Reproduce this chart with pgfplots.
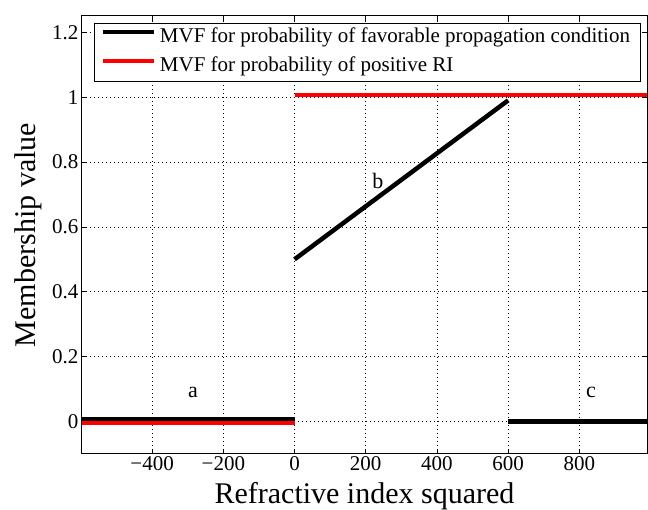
\documentclass[border=0pt]{standalone}
\usepackage{pgfplots}
\pgfplotsset{compat=1.18}
\usepackage{fontspec}
\setmainfont{Liberation Serif}

\begin{document}
\begin{tikzpicture}
\begin{axis}[
    width=565pt, height=438pt,
    scale only axis,
    xmin=-597, xmax=990,
    ymin=-0.1, ymax=1.25,
    xtick={-400,-200,0,200,400,600,800},
    ytick={0,0.2,0.4,0.6,0.8,1,1.2},
    yticklabels={0,0.2,0.4,0.6,0.8,1,1.2},
    xticklabels={−400,−200,0,200,400,600,800},
    tick align=inside,
    major tick length=5pt,
    tick style={black, line width=0.6pt},
    axis line style={line width=1pt},
    grid=major,
    grid style={black, line width=0.7pt, dash pattern=on 0.7pt off 3.3pt},
    ticklabel style={font=\fontsize{21}{21}\selectfont},
    xticklabel style={yshift=1pt},
    /pgf/number format/assume math mode=true,
    xlabel={Refractive index squared},
    ylabel={Membership value},
    label style={font=\fontsize{30}{30}\selectfont},
    xlabel style={at={(axis description cs:0.5,0)}, anchor=center, yshift=-42pt},
    ylabel style={at={(axis description cs:0,0.5)}, anchor=center, yshift=54pt},
    legend style={at={(axis description cs:0.0212,0.984)}, anchor=north west,
        font=\fontsize{21}{21}\selectfont, draw=black, line width=1pt,
        inner xsep=6pt, inner ysep=0pt, row sep=0pt,
        nodes={inner xsep=4pt, inner ysep=3pt, text height=16pt, text depth=7pt}},
    legend cell align=left,
    legend image code/.code={\draw[#1] (0pt,6pt) -- (51pt,6pt);},
    clip=true,
]
\addplot[black, line width=4.5pt] coordinates {(-597,0.008) (0,0.008)};
\addlegendentry{MVF for probability of favorable propagation condition}
\addplot[red, line width=4.5pt] coordinates {(-597,-0.005) (0,-0.005)};
\addlegendentry{MVF for probability of positive RI}
\addplot[black, line width=4.5pt, forget plot] coordinates {(0,0.5) (600,0.99)};
\addplot[red, line width=4.5pt, forget plot] coordinates {(0,1.006) (990,1.006)};
\addplot[black, line width=4.5pt, forget plot] coordinates {(600,0) (990,0)};
\node[font=\fontsize{22}{22}\selectfont] at (axis cs:-285,0.09) {a};
\node[font=\fontsize{22}{22}\selectfont] at (axis cs:234,0.743) {b};
\node[font=\fontsize{22}{22}\selectfont] at (axis cs:833,0.09) {c};
\end{axis}
\pgfresetboundingbox
\path[use as bounding box] ([shift={(-82pt,-56pt)}]current axis.south west)
    rectangle ([shift={(1pt,16pt)}]current axis.north east);
\end{tikzpicture}
\end{document}
